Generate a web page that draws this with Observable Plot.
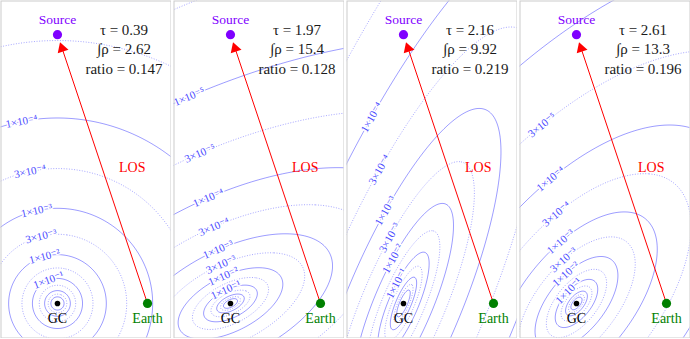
<!DOCTYPE html>
<html><head><meta charset="utf-8">
<script src="https://cdn.jsdelivr.net/npm/d3@7"></script>
<script src="https://cdn.jsdelivr.net/npm/@observablehq/plot@0.6"></script>
<style>
body{margin:0;background:#fff;}
#row{display:flex;gap:2px;width:690px;}
#row svg{display:block;}
</style></head><body><div id="row"></div>
<script>
// ---- values ----
const tau = [0.39, 1.97, 2.16, 2.61];
const rhoInt = [2.62, 15.4, 9.92, 13.3];
const ratio = [0.147, 0.128, 0.219, 0.196];
// density model of each panel: orientation (deg), minor/major axis ratio,
// semi-major axis of the 1e-2 contour, logarithmic slope
const angle = [0, 27, 67, 51];
const axisRatio = [1, 0.485, 0.27, 0.5];
const semiMajor = [4.34, 5.07, 9.6, 4.98];
const slope = [3.45, 3.45, 3.45, 3.45];
// contour levels
const solidLevels = [1e1, 1e0, 1e-1, 1e-2, 1e-3, 1e-4, 1e-5, 1e-6];
const dottedLevels = [3e0, 3e-1, 3e-2, 3e-3, 3e-4, 3e-5, 3e-6];
const labelLevels = [
  [1e-1, 1e-2, 3e-3, 1e-3, 3e-4, 1e-4],
  [1e-1, 1e-2, 3e-3, 1e-3, 3e-4, 1e-4, 3e-5, 1e-5],
  [1e-1, 1e-2, 3e-3, 1e-3, 3e-4, 1e-4],
  [1e-1, 1e-2, 3e-3, 1e-3, 3e-4, 1e-4, 3e-5]
];
// line along which the contour labels sit: x = offset + lean * y
const labelOffset = [-0.44, -0.18, -0.36, -0.53];
const labelLean = [-0.17, -0.19, -0.15, -0.16];
// places
const placeNames = ["GC", "Earth", "Source"];
const placeX = [0, 8, 0];
const placeY = [0, 0, 23.9];
const placeColors = ["#000000", "#008000", "#7f00ff"];
const placeR = [2.8, 4.6, 4.6];
const placeLabelBelow = [true, true, false];
// frame extent
const xDomain = [-5.02, 10.09];
const yDomain = [-3.07, 26.89];

const W = 171, H = 338, M = 0.5;
const pxPerUnit = (W - 2 * M) / (xDomain[1] - xDomain[0]);
const serif = "'Liberation Serif','DejaVu Serif',serif";

const sup = {"-":"⁻","0":"⁰","1":"¹","2":"²","3":"³","4":"⁴","5":"⁵","6":"⁶","7":"⁷","8":"⁸","9":"⁹"};
function fmt(L) {
  const e = Math.floor(Math.log10(L) + 1e-9);
  const m = Math.round(L / 10 ** e);
  return `${m}×10${String(e).replace(/./g, c => sup[c])}`;
}

function makeField(i) {
  const t = angle[i] * Math.PI / 180, c = Math.cos(t), s = Math.sin(t);
  const q = axisRatio[i], a = semiMajor[i], p = slope[i];
  return (x, y) => {
    const u = x * c + y * s, v = (-x * s + y * c) / q;
    const m = Math.max(Math.hypot(u, v), 1e-6);
    return -2 - p * Math.log10(m / a);
  };
}

function labelData(i, f) {
  return labelLevels[i].map(L => {
    const target = Math.log10(L);
    let lo = 0.01, hi = 60;
    for (let k = 0; k < 60; k++) {
      const mid = (lo + hi) / 2;
      const v = f(labelOffset[i] + labelLean[i] * mid, mid);
      if (v > target) lo = mid; else hi = mid;
    }
    const y = (lo + hi) / 2, x = labelOffset[i] + labelLean[i] * y;
    const h = 1e-4;
    const gx = (f(x + h, y) - f(x - h, y)) / (2 * h);
    const gy = (f(x, y + h) - f(x, y - h)) / (2 * h);
    let tx = -gy, ty = gx;
    if (tx < 0) { tx = -tx; ty = -ty; }
    const r = Math.atan2(-ty, tx) * 180 / Math.PI;
    return {x, y, text: fmt(L), r};
  });
}

const places = placeNames.map((name, k) => ({name, x: placeX[k], y: placeY[k], color: placeColors[k], r: placeR[k], below: placeLabelBelow[k]}));
const earth = places[1], source = places[2];

// arrow geometry along the line of sight
const losLenPx = Math.hypot(earth.x - source.x, earth.y - source.y) * pxPerUnit;
const along = px => ({x: source.x + (earth.x - source.x) * px / losLenPx, y: source.y + (earth.y - source.y) * px / losLenPx});
const headCenter = along(14.5);
const lineEnd = along(17);
const headRotate = Math.atan2((source.x - earth.x), (source.y - earth.y)) * 180 / Math.PI;

function panel(i) {
  const f = makeField(i);
  const common = {value: f, x1: -20, x2: 25, y1: -20, y2: 45, fill: "none", stroke: "#0000ff", clip: true, pixelSize: 1};
  return Plot.plot({
    width: W, height: H, margin: M,
    style: {background: "white", fontFamily: serif},
    x: {domain: xDomain, axis: null},
    y: {domain: yDomain, axis: null},
    r: {type: "identity"},
    marks: [
      Plot.contour({...common, thresholds: solidLevels.map(Math.log10), strokeOpacity: 0.5, strokeWidth: 0.8}),
      Plot.contour({...common, thresholds: dottedLevels.map(Math.log10), strokeOpacity: 0.45, strokeWidth: 0.8, strokeDasharray: "1,1.6"}),
      Plot.text(labelData(i, f), {x: "x", y: "y", text: "text", rotate: "r", fill: "#4a4aff", stroke: "white", strokeWidth: 3, fontSize: 11, fontFamily: serif}),
      Plot.link([{x1: earth.x, y1: earth.y, x2: lineEnd.x, y2: lineEnd.y}], {x1: "x1", y1: "y1", x2: "x2", y2: "y2", stroke: "red", strokeWidth: 1}),
      Plot.dot([headCenter], {x: "x", y: "y", symbol: "triangle", r: 4.2, fill: "red", rotate: headRotate}),
      Plot.dot(places, {x: "x", y: "y", r: "r", fill: "color"}),
      Plot.text(places.filter(d => d.below), {x: "x", y: "y", text: "name", fill: "color", fontSize: 14, dy: 15}),
      Plot.text(places.filter(d => !d.below), {x: "x", y: "y", text: "name", fill: "color", fontSize: 13.5, dy: -15}),
      Plot.text([`τ = ${tau[i]}\n∫ρ = ${rhoInt[i]}\nratio = ${ratio[i]}`], {frameAnchor: "top-left", dx: 123, dy: 47, textAnchor: "middle", lineAnchor: "middle", lineHeight: 1.3, fontSize: 15, fill: "#1a1a1a"}),
      Plot.text(["LOS"], {frameAnchor: "top-left", dx: 118, dy: 161, fontSize: 14, fill: "red"}),
      Plot.frame({stroke: "#cccccc"})
    ]
  });
}
const row = document.getElementById("row");
for (let i = 0; i < 4; i++) row.appendChild(panel(i));
</script>
</body></html>
